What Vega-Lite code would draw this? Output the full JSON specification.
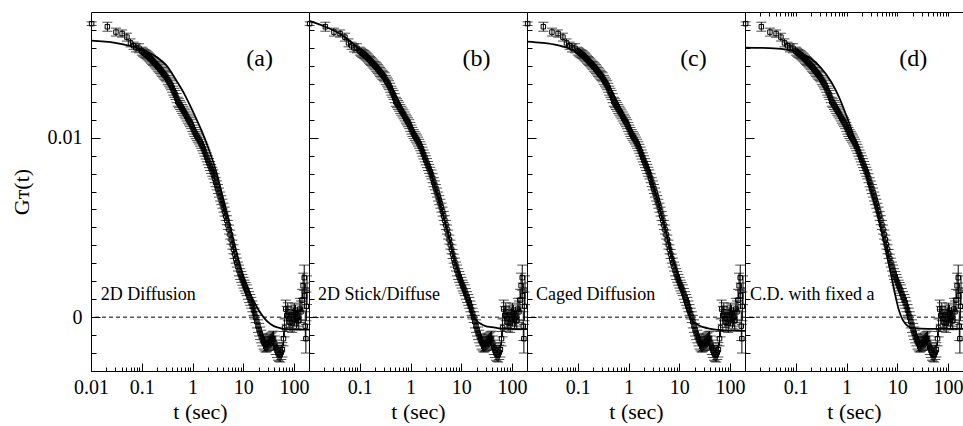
{
  "$schema": "https://vega.github.io/schema/vega-lite/v6.json",
  "padding": {"left": 9, "top": 11, "right": 0, "bottom": 0},
  "spacing": 0,
  "bounds": "flush",
  "background": "white",
  "config": {
    "font": "Liberation Serif",
    "view": {"stroke": "black", "strokeWidth": 1},
    "axis": {"domain": false, "grid": false, "tickColor": "black", "tickWidth": 1, "labelColor": "black", "titleColor": "black", "labelFont": "Liberation Serif", "titleFont": "Liberation Serif", "titleFontWeight": "normal"}
  },
  "datasets": {
    "pts": [
      {"t": 0.0103, "G": 0.01635, "e": 0.0001},
      {"t": 0.021, "G": 0.01618, "e": 0.00025},
      {"t": 0.031, "G": 0.01588, "e": 0.00022},
      {"t": 0.041, "G": 0.0158, "e": 0.0002},
      {"t": 0.051, "G": 0.0156, "e": 0.00022},
      {"t": 0.06, "G": 0.01528, "e": 0.00022},
      {"t": 0.069, "G": 0.01512, "e": 0.0002},
      {"t": 0.077, "G": 0.015, "e": 0.00022},
      {"t": 0.088, "G": 0.01498, "e": 0.00025},
      {"t": 0.1, "G": 0.01482, "e": 0.00022},
      {"t": 0.106, "G": 0.01476, "e": 0.00022},
      {"t": 0.112, "G": 0.0147, "e": 0.00022},
      {"t": 0.118, "G": 0.01466, "e": 0.00022},
      {"t": 0.124, "G": 0.01462, "e": 0.00022},
      {"t": 0.13, "G": 0.01456, "e": 0.00022},
      {"t": 0.137, "G": 0.0145, "e": 0.00022},
      {"t": 0.144, "G": 0.01444, "e": 0.00022},
      {"t": 0.152, "G": 0.01437, "e": 0.00022},
      {"t": 0.16, "G": 0.0143, "e": 0.00022},
      {"t": 0.168, "G": 0.01424, "e": 0.00022},
      {"t": 0.177, "G": 0.01417, "e": 0.00022},
      {"t": 0.186, "G": 0.0141, "e": 0.00022},
      {"t": 0.196, "G": 0.01403, "e": 0.00022},
      {"t": 0.206, "G": 0.01396, "e": 0.00025},
      {"t": 0.217, "G": 0.0139, "e": 0.00025},
      {"t": 0.228, "G": 0.01382, "e": 0.00025},
      {"t": 0.24, "G": 0.01374, "e": 0.00025},
      {"t": 0.252, "G": 0.01366, "e": 0.00025},
      {"t": 0.265, "G": 0.01358, "e": 0.00025},
      {"t": 0.279, "G": 0.0135, "e": 0.00025},
      {"t": 0.294, "G": 0.01343, "e": 0.00025},
      {"t": 0.309, "G": 0.01336, "e": 0.00025},
      {"t": 0.325, "G": 0.01322, "e": 0.00025},
      {"t": 0.342, "G": 0.01312, "e": 0.00025},
      {"t": 0.36, "G": 0.01302, "e": 0.00025},
      {"t": 0.378, "G": 0.01292, "e": 0.00025},
      {"t": 0.398, "G": 0.01278, "e": 0.00025},
      {"t": 0.418, "G": 0.01262, "e": 0.00025},
      {"t": 0.44, "G": 0.0125, "e": 0.00025},
      {"t": 0.463, "G": 0.01238, "e": 0.00025},
      {"t": 0.487, "G": 0.0122, "e": 0.00025},
      {"t": 0.512, "G": 0.012, "e": 0.00025},
      {"t": 0.539, "G": 0.01192, "e": 0.00025},
      {"t": 0.567, "G": 0.01182, "e": 0.00025},
      {"t": 0.597, "G": 0.01172, "e": 0.00025},
      {"t": 0.627, "G": 0.0116, "e": 0.00025},
      {"t": 0.66, "G": 0.0115, "e": 0.00025},
      {"t": 0.694, "G": 0.0114, "e": 0.00025},
      {"t": 0.73, "G": 0.0113, "e": 0.00025},
      {"t": 0.768, "G": 0.01118, "e": 0.00025},
      {"t": 0.808, "G": 0.01106, "e": 0.00025},
      {"t": 0.85, "G": 0.01096, "e": 0.00025},
      {"t": 0.894, "G": 0.01086, "e": 0.00025},
      {"t": 0.94, "G": 0.01075, "e": 0.00025},
      {"t": 0.99, "G": 0.0106, "e": 0.00025},
      {"t": 1.04, "G": 0.01045, "e": 0.00025},
      {"t": 1.09, "G": 0.01032, "e": 0.00025},
      {"t": 1.15, "G": 0.0102, "e": 0.00025},
      {"t": 1.21, "G": 0.0101, "e": 0.00025},
      {"t": 1.27, "G": 0.01, "e": 0.00025},
      {"t": 1.34, "G": 0.0099, "e": 0.00025},
      {"t": 1.41, "G": 0.00978, "e": 0.00025},
      {"t": 1.48, "G": 0.00966, "e": 0.00025},
      {"t": 1.56, "G": 0.00952, "e": 0.00025},
      {"t": 1.64, "G": 0.00938, "e": 0.00025},
      {"t": 1.72, "G": 0.00922, "e": 0.00025},
      {"t": 1.81, "G": 0.00906, "e": 0.00025},
      {"t": 1.91, "G": 0.0089, "e": 0.00025},
      {"t": 2.0, "G": 0.00874, "e": 0.00025},
      {"t": 2.11, "G": 0.00858, "e": 0.00025},
      {"t": 2.22, "G": 0.00842, "e": 0.00025},
      {"t": 2.33, "G": 0.00826, "e": 0.00025},
      {"t": 2.45, "G": 0.0081, "e": 0.00025},
      {"t": 2.58, "G": 0.00795, "e": 0.00025},
      {"t": 2.72, "G": 0.00774, "e": 0.00025},
      {"t": 2.86, "G": 0.00752, "e": 0.00025},
      {"t": 3.01, "G": 0.00734, "e": 0.00025},
      {"t": 3.16, "G": 0.00714, "e": 0.00025},
      {"t": 3.33, "G": 0.00694, "e": 0.00025},
      {"t": 3.5, "G": 0.00672, "e": 0.00025},
      {"t": 3.68, "G": 0.00652, "e": 0.00025},
      {"t": 3.87, "G": 0.00632, "e": 0.00025},
      {"t": 4.07, "G": 0.0061, "e": 0.00025},
      {"t": 4.28, "G": 0.00588, "e": 0.00025},
      {"t": 4.5, "G": 0.00564, "e": 0.00025},
      {"t": 4.73, "G": 0.0054, "e": 0.00025},
      {"t": 4.98, "G": 0.00514, "e": 0.00025},
      {"t": 5.24, "G": 0.00488, "e": 0.00025},
      {"t": 5.51, "G": 0.0046, "e": 0.00025},
      {"t": 5.8, "G": 0.00432, "e": 0.00025},
      {"t": 6.1, "G": 0.00404, "e": 0.00025},
      {"t": 6.41, "G": 0.00378, "e": 0.00025},
      {"t": 6.74, "G": 0.00352, "e": 0.00025},
      {"t": 7.09, "G": 0.00326, "e": 0.00025},
      {"t": 7.46, "G": 0.00304, "e": 0.00025},
      {"t": 7.85, "G": 0.00282, "e": 0.00025},
      {"t": 8.25, "G": 0.0026, "e": 0.0003},
      {"t": 8.68, "G": 0.0024, "e": 0.0003},
      {"t": 9.13, "G": 0.00224, "e": 0.0003},
      {"t": 9.6, "G": 0.00208, "e": 0.0003},
      {"t": 10.1, "G": 0.00192, "e": 0.0003},
      {"t": 10.6, "G": 0.00176, "e": 0.0003},
      {"t": 11.1, "G": 0.00163, "e": 0.0003},
      {"t": 11.7, "G": 0.0015, "e": 0.0003},
      {"t": 12.3, "G": 0.0013, "e": 0.0003},
      {"t": 13.0, "G": 0.00112, "e": 0.0003},
      {"t": 13.7, "G": 0.00096, "e": 0.0003},
      {"t": 14.4, "G": 0.0008, "e": 0.0003},
      {"t": 15.1, "G": 0.0006, "e": 0.0003},
      {"t": 15.9, "G": 0.0004, "e": 0.0003},
      {"t": 16.7, "G": 0.0002, "e": 0.0003},
      {"t": 17.6, "G": 0.0, "e": 0.0003},
      {"t": 18.5, "G": -0.00025, "e": 0.00035},
      {"t": 19.5, "G": -0.0005, "e": 0.00035},
      {"t": 20.5, "G": -0.0007, "e": 0.00035},
      {"t": 21.5, "G": -0.0009, "e": 0.00035},
      {"t": 22.6, "G": -0.00108, "e": 0.00035},
      {"t": 23.8, "G": -0.00125, "e": 0.00035},
      {"t": 25.0, "G": -0.00138, "e": 0.0004},
      {"t": 26.3, "G": -0.00148, "e": 0.0004},
      {"t": 27.7, "G": -0.00155, "e": 0.0004},
      {"t": 29.1, "G": -0.00152, "e": 0.0004},
      {"t": 30.6, "G": -0.00146, "e": 0.0004},
      {"t": 32.2, "G": -0.0014, "e": 0.0004},
      {"t": 33.9, "G": -0.00134, "e": 0.0004},
      {"t": 35.6, "G": -0.00128, "e": 0.0004},
      {"t": 37.5, "G": -0.00122, "e": 0.0004},
      {"t": 39.4, "G": -0.00118, "e": 0.0004},
      {"t": 41.5, "G": -0.00145, "e": 0.0004},
      {"t": 43.6, "G": -0.00168, "e": 0.0004},
      {"t": 45.9, "G": -0.00185, "e": 0.0004},
      {"t": 48.2, "G": -0.002, "e": 0.0004},
      {"t": 50.7, "G": -0.00206, "e": 0.0004},
      {"t": 53.3, "G": -0.0021, "e": 0.0004},
      {"t": 56.0, "G": -0.00196, "e": 0.0004},
      {"t": 58.9, "G": -0.00182, "e": 0.0004},
      {"t": 62.0, "G": -0.0012, "e": 0.0004},
      {"t": 65.1, "G": -0.0006, "e": 0.0005},
      {"t": 68.3, "G": 0.00045, "e": 0.0005},
      {"t": 71.8, "G": 0.0001, "e": 0.0005},
      {"t": 75.4, "G": 0.0003, "e": 0.0005},
      {"t": 79.3, "G": -0.00008, "e": 0.0005},
      {"t": 83.3, "G": -0.00028, "e": 0.0005},
      {"t": 87.5, "G": 0.00012, "e": 0.0005},
      {"t": 92.0, "G": -0.00035, "e": 0.0005},
      {"t": 96.6, "G": 0.00002, "e": 0.0005},
      {"t": 101.5, "G": 0.00028, "e": 0.0005},
      {"t": 106.7, "G": 0.00018, "e": 0.0005},
      {"t": 112.1, "G": -0.00012, "e": 0.0005},
      {"t": 117.8, "G": 0.0, "e": 0.0005},
      {"t": 123.8, "G": -0.0002, "e": 0.0005},
      {"t": 130.1, "G": 0.00045, "e": 0.0006},
      {"t": 136.7, "G": 0.0003, "e": 0.0006},
      {"t": 143.6, "G": 0.00095, "e": 0.0006},
      {"t": 150.9, "G": 0.00175, "e": 0.0007},
      {"t": 158.6, "G": 0.0022, "e": 0.0007},
      {"t": 162.0, "G": 0.0012, "e": 0.0007},
      {"t": 166.6, "G": -0.0005, "e": 0.0008},
      {"t": 171.0, "G": -0.0012, "e": 0.0008},
      {"t": 175.0, "G": 0.0006, "e": 0.0008},
      {"t": 180.0, "G": 0.0015, "e": 0.0008}
    ],
    "fit": [
      {"panel": "a", "t": 0.01, "G": 0.0154}, {"panel": "a", "t": 0.03, "G": 0.01528}, {"panel": "a", "t": 0.1, "G": 0.0149}, {"panel": "a", "t": 0.2, "G": 0.01448}, {"panel": "a", "t": 0.3, "G": 0.01405}, {"panel": "a", "t": 0.5, "G": 0.0131}, {"panel": "a", "t": 0.7, "G": 0.0124}, {"panel": "a", "t": 1.0, "G": 0.0115}, {"panel": "a", "t": 1.5, "G": 0.0104}, {"panel": "a", "t": 2.0, "G": 0.0095}, {"panel": "a", "t": 3.0, "G": 0.008}, {"panel": "a", "t": 4.0, "G": 0.0066}, {"panel": "a", "t": 5.0, "G": 0.0055}, {"panel": "a", "t": 6.5, "G": 0.0042}, {"panel": "a", "t": 8.0, "G": 0.0032}, {"panel": "a", "t": 10.0, "G": 0.0023}, {"panel": "a", "t": 13.0, "G": 0.00145}, {"panel": "a", "t": 16.0, "G": 0.0009}, {"panel": "a", "t": 20.0, "G": 0.0004}, {"panel": "a", "t": 25.0, "G": 0.0}, {"panel": "a", "t": 30.0, "G": -0.00025}, {"panel": "a", "t": 40.0, "G": -0.0005}, {"panel": "a", "t": 55.0, "G": -0.00062}, {"panel": "a", "t": 80.0, "G": -0.00067}, {"panel": "a", "t": 120.0, "G": -0.00069}, {"panel": "a", "t": 197.0, "G": -0.0007},
      {"panel": "b", "t": 0.01, "G": 0.0165}, {"panel": "b", "t": 0.02, "G": 0.0162}, {"panel": "b", "t": 0.04, "G": 0.0158}, {"panel": "b", "t": 0.07, "G": 0.0153}, {"panel": "b", "t": 0.1, "G": 0.0149}, {"panel": "b", "t": 0.15, "G": 0.0144}, {"panel": "b", "t": 0.2, "G": 0.014}, {"panel": "b", "t": 0.3, "G": 0.0134}, {"panel": "b", "t": 0.5, "G": 0.0124}, {"panel": "b", "t": 0.7, "G": 0.01155}, {"panel": "b", "t": 1.0, "G": 0.0106}, {"panel": "b", "t": 1.5, "G": 0.0096}, {"panel": "b", "t": 2.0, "G": 0.0088}, {"panel": "b", "t": 3.0, "G": 0.0073}, {"panel": "b", "t": 4.0, "G": 0.0061}, {"panel": "b", "t": 5.0, "G": 0.0051}, {"panel": "b", "t": 6.0, "G": 0.0042}, {"panel": "b", "t": 8.0, "G": 0.0029}, {"panel": "b", "t": 10.0, "G": 0.002}, {"panel": "b", "t": 13.0, "G": 0.0009}, {"panel": "b", "t": 16.0, "G": 0.0002}, {"panel": "b", "t": 20.0, "G": -0.0002}, {"panel": "b", "t": 25.0, "G": -0.0004}, {"panel": "b", "t": 30.0, "G": -0.0005}, {"panel": "b", "t": 40.0, "G": -0.00056}, {"panel": "b", "t": 55.0, "G": -0.00062}, {"panel": "b", "t": 80.0, "G": -0.00065}, {"panel": "b", "t": 197.0, "G": -0.00067},
      {"panel": "c", "t": 0.01, "G": 0.01535}, {"panel": "c", "t": 0.02, "G": 0.01528}, {"panel": "c", "t": 0.04, "G": 0.01515}, {"panel": "c", "t": 0.07, "G": 0.01495}, {"panel": "c", "t": 0.1, "G": 0.0147}, {"panel": "c", "t": 0.15, "G": 0.0143}, {"panel": "c", "t": 0.2, "G": 0.0139}, {"panel": "c", "t": 0.3, "G": 0.0133}, {"panel": "c", "t": 0.5, "G": 0.0124}, {"panel": "c", "t": 0.7, "G": 0.0116}, {"panel": "c", "t": 1.0, "G": 0.0107}, {"panel": "c", "t": 1.5, "G": 0.0097}, {"panel": "c", "t": 2.0, "G": 0.0089}, {"panel": "c", "t": 3.0, "G": 0.0074}, {"panel": "c", "t": 4.0, "G": 0.0062}, {"panel": "c", "t": 5.0, "G": 0.0052}, {"panel": "c", "t": 6.0, "G": 0.0043}, {"panel": "c", "t": 8.0, "G": 0.003}, {"panel": "c", "t": 10.0, "G": 0.0021}, {"panel": "c", "t": 12.5, "G": 0.0009}, {"panel": "c", "t": 15.0, "G": 0.0002}, {"panel": "c", "t": 18.0, "G": -0.0002}, {"panel": "c", "t": 23.5, "G": -0.00044}, {"panel": "c", "t": 30.0, "G": -0.00056}, {"panel": "c", "t": 37.0, "G": -0.00063}, {"panel": "c", "t": 58.0, "G": -0.00071}, {"panel": "c", "t": 100.0, "G": -0.00075}, {"panel": "c", "t": 197.0, "G": -0.00076},
      {"panel": "d", "t": 0.01, "G": 0.01502}, {"panel": "d", "t": 0.03, "G": 0.01499}, {"panel": "d", "t": 0.06, "G": 0.01492}, {"panel": "d", "t": 0.1, "G": 0.0148}, {"panel": "d", "t": 0.15, "G": 0.0146}, {"panel": "d", "t": 0.2, "G": 0.0144}, {"panel": "d", "t": 0.3, "G": 0.01395}, {"panel": "d", "t": 0.5, "G": 0.0131}, {"panel": "d", "t": 0.7, "G": 0.0123}, {"panel": "d", "t": 1.0, "G": 0.0112}, {"panel": "d", "t": 1.5, "G": 0.0098}, {"panel": "d", "t": 2.2, "G": 0.0084}, {"panel": "d", "t": 3.2, "G": 0.0068}, {"panel": "d", "t": 4.0, "G": 0.0058}, {"panel": "d", "t": 5.0, "G": 0.0047}, {"panel": "d", "t": 6.0, "G": 0.0037}, {"panel": "d", "t": 7.5, "G": 0.0024}, {"panel": "d", "t": 9.0, "G": 0.0013}, {"panel": "d", "t": 10.5, "G": 0.0005}, {"panel": "d", "t": 12.5, "G": -0.0001}, {"panel": "d", "t": 15.0, "G": -0.00042}, {"panel": "d", "t": 18.0, "G": -0.00058}, {"panel": "d", "t": 22.0, "G": -0.00063}, {"panel": "d", "t": 40.0, "G": -0.00065}, {"panel": "d", "t": 197.0, "G": -0.00065}
    ],
    "one": [{}]
  },
  "hconcat": [
    {
      "width": 218, "height": 359,
      "layer": [
        {"data": {"name": "pts"}, "mark": {"type": "errorbar", "color": "black", "thickness": 1, "ticks": {"size": 10, "thickness": 1, "color": "black"}},
         "encoding": {
           "x": {"field": "t", "type": "quantitative", "scale": {"type": "log", "domain": [0.01, 197], "nice": false}, "axis": {"orient": "bottom", "values": [0.01, 0.1, 1, 10, 100], "format": "~g", "tickSize": -8, "labelFontSize": 20, "labelPadding": 14, "labelFlush": false, "labelOverlap": false, "title": "t (sec)", "titleFontSize": 22, "titlePadding": 4}},
           "y": {"field": "G", "type": "quantitative", "scale": {"domain": [-0.003, 0.017], "nice": false, "zero": false}, "axis": {"orient": "left", "values": [0, 0.01], "format": "~g", "tickSize": -9, "labelFontSize": 20, "labelPadding": 18, "labelFlush": false, "labelOverlap": false, "title": "Gᴛ(t)", "titleFontSize": 22, "titlePadding": 14}},
           "yError": {"field": "e"}}},
        {"data": {"name": "pts"}, "mark": {"type": "point", "shape": "square", "filled": false, "size": 20, "strokeWidth": 1, "color": "black", "opacity": 1},
         "encoding": {
           "x": {"field": "t", "type": "quantitative", "scale": {"type": "log", "domain": [0.01, 197], "nice": false}, "axis": {"orient": "bottom", "values": [0.02, 0.03, 0.04, 0.05, 0.06, 0.07, 0.08, 0.09, 0.2, 0.3, 0.4, 0.5, 0.6, 0.7, 0.8, 0.9, 2, 3, 4, 5, 6, 7, 8, 9, 20, 30, 40, 50, 60, 70, 80, 90], "tickSize": -4, "labels": false, "title": null}},
           "y": {"field": "G", "type": "quantitative", "scale": {"domain": [-0.003, 0.017], "nice": false, "zero": false}, "axis": {"orient": "left", "values": [-0.002, -0.001, 0.001, 0.002, 0.003, 0.004, 0.005, 0.006, 0.007, 0.008, 0.009, 0.011, 0.012, 0.013, 0.014, 0.015, 0.016], "tickSize": -5, "labels": false, "title": null}}}},
        {"data": {"name": "fit"}, "transform": [{"filter": "datum.panel == 'a'"}], "mark": {"type": "line", "color": "black", "strokeWidth": 1.8, "interpolate": "monotone"},
         "encoding": {"x": {"field": "t", "type": "quantitative", "scale": {"type": "log", "domain": [0.01, 197], "nice": false}, "axis": null}, "y": {"field": "G", "type": "quantitative", "scale": {"domain": [-0.003, 0.017], "nice": false, "zero": false}, "axis": null}}},
        {"data": {"name": "one"}, "mark": {"type": "rule", "color": "black", "strokeWidth": 1, "strokeDash": [4, 3]}, "encoding": {"y": {"datum": 0, "type": "quantitative", "axis": null}}},
        {"data": {"name": "one"}, "mark": {"type": "text", "font": "Liberation Serif", "fontSize": 24, "color": "black", "align": "center", "baseline": "middle"}, "encoding": {"x": {"datum": 21, "type": "quantitative", "axis": null}, "y": {"datum": 0.0144, "type": "quantitative", "axis": null}, "text": {"value": "(a)"}}},
        {"data": {"name": "one"}, "mark": {"type": "text", "font": "Liberation Serif", "fontSize": 18, "color": "black", "align": "left", "baseline": "middle"}, "encoding": {"x": {"datum": 0.0155, "type": "quantitative", "axis": null}, "y": {"datum": 0.00123, "type": "quantitative", "axis": null}, "text": {"value": "2D Diffusion"}}}
      ],
      "resolve": {"axis": {"x": "independent", "y": "independent"}}
    },
    {
      "width": 218, "height": 359,
      "layer": [
        {"data": {"name": "pts"}, "mark": {"type": "errorbar", "color": "black", "thickness": 1, "ticks": {"size": 10, "thickness": 1, "color": "black"}},
         "encoding": {
           "x": {"field": "t", "type": "quantitative", "scale": {"type": "log", "domain": [0.01, 197], "nice": false}, "axis": {"orient": "bottom", "values": [0.01, 0.1, 1, 10, 100], "format": "~g", "labelExpr": "datum.value < 0.05 ? '' : datum.label", "tickSize": -8, "labelFontSize": 20, "labelPadding": 14, "labelFlush": false, "labelOverlap": false, "title": "t (sec)", "titleFontSize": 22, "titlePadding": 4}},
           "y": {"field": "G", "type": "quantitative", "scale": {"domain": [-0.003, 0.017], "nice": false, "zero": false}, "axis": {"orient": "left", "values": [0, 0.01], "tickSize": -9, "labels": false, "title": null}},
           "yError": {"field": "e"}}},
        {"data": {"name": "pts"}, "mark": {"type": "point", "shape": "square", "filled": false, "size": 20, "strokeWidth": 1, "color": "black", "opacity": 1},
         "encoding": {
           "x": {"field": "t", "type": "quantitative", "scale": {"type": "log", "domain": [0.01, 197], "nice": false}, "axis": {"orient": "bottom", "values": [0.02, 0.03, 0.04, 0.05, 0.06, 0.07, 0.08, 0.09, 0.2, 0.3, 0.4, 0.5, 0.6, 0.7, 0.8, 0.9, 2, 3, 4, 5, 6, 7, 8, 9, 20, 30, 40, 50, 60, 70, 80, 90], "tickSize": -4, "labels": false, "title": null}},
           "y": {"field": "G", "type": "quantitative", "scale": {"domain": [-0.003, 0.017], "nice": false, "zero": false}, "axis": {"orient": "left", "values": [-0.002, -0.001, 0.001, 0.002, 0.003, 0.004, 0.005, 0.006, 0.007, 0.008, 0.009, 0.011, 0.012, 0.013, 0.014, 0.015, 0.016], "tickSize": -5, "labels": false, "title": null}}}},
        {"data": {"name": "fit"}, "transform": [{"filter": "datum.panel == 'b'"}], "mark": {"type": "line", "color": "black", "strokeWidth": 1.8, "interpolate": "monotone"},
         "encoding": {"x": {"field": "t", "type": "quantitative", "scale": {"type": "log", "domain": [0.01, 197], "nice": false}, "axis": null}, "y": {"field": "G", "type": "quantitative", "scale": {"domain": [-0.003, 0.017], "nice": false, "zero": false}, "axis": null}}},
        {"data": {"name": "one"}, "mark": {"type": "rule", "color": "black", "strokeWidth": 1, "strokeDash": [4, 3]}, "encoding": {"y": {"datum": 0, "type": "quantitative", "axis": null}}},
        {"data": {"name": "one"}, "mark": {"type": "text", "font": "Liberation Serif", "fontSize": 24, "color": "black", "align": "center", "baseline": "middle"}, "encoding": {"x": {"datum": 20, "type": "quantitative", "axis": null}, "y": {"datum": 0.0144, "type": "quantitative", "axis": null}, "text": {"value": "(b)"}}},
        {"data": {"name": "one"}, "mark": {"type": "text", "font": "Liberation Serif", "fontSize": 18, "color": "black", "align": "left", "baseline": "middle"}, "encoding": {"x": {"datum": 0.015, "type": "quantitative", "axis": null}, "y": {"datum": 0.00123, "type": "quantitative", "axis": null}, "text": {"value": "2D Stick/Diffuse"}}}
      ],
      "resolve": {"axis": {"x": "independent", "y": "independent"}}
    },
    {
      "width": 218, "height": 359,
      "layer": [
        {"data": {"name": "pts"}, "mark": {"type": "errorbar", "color": "black", "thickness": 1, "ticks": {"size": 10, "thickness": 1, "color": "black"}},
         "encoding": {
           "x": {"field": "t", "type": "quantitative", "scale": {"type": "log", "domain": [0.01, 197], "nice": false}, "axis": {"orient": "bottom", "values": [0.01, 0.1, 1, 10, 100], "format": "~g", "labelExpr": "datum.value < 0.05 ? '' : datum.label", "tickSize": -8, "labelFontSize": 20, "labelPadding": 14, "labelFlush": false, "labelOverlap": false, "title": "t (sec)", "titleFontSize": 22, "titlePadding": 4}},
           "y": {"field": "G", "type": "quantitative", "scale": {"domain": [-0.003, 0.017], "nice": false, "zero": false}, "axis": {"orient": "left", "values": [0, 0.01], "tickSize": -9, "labels": false, "title": null}},
           "yError": {"field": "e"}}},
        {"data": {"name": "pts"}, "mark": {"type": "point", "shape": "square", "filled": false, "size": 20, "strokeWidth": 1, "color": "black", "opacity": 1},
         "encoding": {
           "x": {"field": "t", "type": "quantitative", "scale": {"type": "log", "domain": [0.01, 197], "nice": false}, "axis": {"orient": "bottom", "values": [0.02, 0.03, 0.04, 0.05, 0.06, 0.07, 0.08, 0.09, 0.2, 0.3, 0.4, 0.5, 0.6, 0.7, 0.8, 0.9, 2, 3, 4, 5, 6, 7, 8, 9, 20, 30, 40, 50, 60, 70, 80, 90], "tickSize": -4, "labels": false, "title": null}},
           "y": {"field": "G", "type": "quantitative", "scale": {"domain": [-0.003, 0.017], "nice": false, "zero": false}, "axis": {"orient": "left", "values": [-0.002, -0.001, 0.001, 0.002, 0.003, 0.004, 0.005, 0.006, 0.007, 0.008, 0.009, 0.011, 0.012, 0.013, 0.014, 0.015, 0.016], "tickSize": -5, "labels": false, "title": null}}}},
        {"data": {"name": "fit"}, "transform": [{"filter": "datum.panel == 'c'"}], "mark": {"type": "line", "color": "black", "strokeWidth": 1.8, "interpolate": "monotone"},
         "encoding": {"x": {"field": "t", "type": "quantitative", "scale": {"type": "log", "domain": [0.01, 197], "nice": false}, "axis": null}, "y": {"field": "G", "type": "quantitative", "scale": {"domain": [-0.003, 0.017], "nice": false, "zero": false}, "axis": null}}},
        {"data": {"name": "one"}, "mark": {"type": "rule", "color": "black", "strokeWidth": 1, "strokeDash": [4, 3]}, "encoding": {"y": {"datum": 0, "type": "quantitative", "axis": null}}},
        {"data": {"name": "one"}, "mark": {"type": "text", "font": "Liberation Serif", "fontSize": 24, "color": "black", "align": "center", "baseline": "middle"}, "encoding": {"x": {"datum": 19, "type": "quantitative", "axis": null}, "y": {"datum": 0.0144, "type": "quantitative", "axis": null}, "text": {"value": "(c)"}}},
        {"data": {"name": "one"}, "mark": {"type": "text", "font": "Liberation Serif", "fontSize": 18, "color": "black", "align": "left", "baseline": "middle"}, "encoding": {"x": {"datum": 0.0151, "type": "quantitative", "axis": null}, "y": {"datum": 0.00123, "type": "quantitative", "axis": null}, "text": {"value": "Caged Diffusion"}}}
      ],
      "resolve": {"axis": {"x": "independent", "y": "independent"}}
    },
    {
      "width": 218, "height": 359,
      "layer": [
        {"data": {"name": "pts"}, "mark": {"type": "errorbar", "color": "black", "thickness": 1, "ticks": {"size": 10, "thickness": 1, "color": "black"}},
         "encoding": {
           "x": {"field": "t", "type": "quantitative", "scale": {"type": "log", "domain": [0.01, 197], "nice": false}, "axis": {"orient": "bottom", "values": [0.01, 0.1, 1, 10, 100], "format": "~g", "labelExpr": "datum.value < 0.05 ? '' : datum.label", "tickSize": -8, "labelFontSize": 20, "labelPadding": 14, "labelFlush": false, "labelOverlap": false, "title": "t (sec)", "titleFontSize": 22, "titlePadding": 4}},
           "y": {"field": "G", "type": "quantitative", "scale": {"domain": [-0.003, 0.017], "nice": false, "zero": false}, "axis": {"orient": "left", "values": [0, 0.01], "tickSize": -9, "labels": false, "title": null}},
           "yError": {"field": "e"}}},
        {"data": {"name": "pts"}, "mark": {"type": "point", "shape": "square", "filled": false, "size": 20, "strokeWidth": 1, "color": "black", "opacity": 1},
         "encoding": {
           "x": {"field": "t", "type": "quantitative", "scale": {"type": "log", "domain": [0.01, 197], "nice": false}, "axis": {"orient": "bottom", "values": [0.02, 0.03, 0.04, 0.05, 0.06, 0.07, 0.08, 0.09, 0.2, 0.3, 0.4, 0.5, 0.6, 0.7, 0.8, 0.9, 2, 3, 4, 5, 6, 7, 8, 9, 20, 30, 40, 50, 60, 70, 80, 90], "tickSize": -4, "labels": false, "title": null}},
           "y": {"field": "G", "type": "quantitative", "scale": {"domain": [-0.003, 0.017], "nice": false, "zero": false}, "axis": {"orient": "left", "values": [-0.002, -0.001, 0.001, 0.002, 0.003, 0.004, 0.005, 0.006, 0.007, 0.008, 0.009, 0.011, 0.012, 0.013, 0.014, 0.015, 0.016], "tickSize": -5, "labels": false, "title": null}}}},
        {"data": {"name": "fit"}, "transform": [{"filter": "datum.panel == 'd'"}], "mark": {"type": "line", "color": "black", "strokeWidth": 1.8, "interpolate": "monotone"},
         "encoding": {"x": {"field": "t", "type": "quantitative", "scale": {"type": "log", "domain": [0.01, 197], "nice": false}, "axis": {"orient": "top", "values": [0.01, 0.02, 0.03, 0.04, 0.05, 0.06, 0.07, 0.08, 0.09, 0.1, 0.2, 0.3, 0.4, 0.5, 0.6, 0.7, 0.8, 0.9, 1, 2, 3, 4, 5, 6, 7, 8, 9, 10, 20, 30, 40, 50, 60, 70, 80, 90, 100], "tickSize": -4, "labels": false, "title": null}}, "y": {"field": "G", "type": "quantitative", "scale": {"domain": [-0.003, 0.017], "nice": false, "zero": false}, "axis": null}}},
        {"data": {"name": "one"}, "mark": {"type": "rule", "color": "black", "strokeWidth": 1, "strokeDash": [4, 3]}, "encoding": {"y": {"datum": 0, "type": "quantitative", "axis": null}}},
        {"data": {"name": "one"}, "mark": {"type": "text", "font": "Liberation Serif", "fontSize": 24, "color": "black", "align": "center", "baseline": "middle"}, "encoding": {"x": {"datum": 20.7, "type": "quantitative", "axis": null}, "y": {"datum": 0.0144, "type": "quantitative", "axis": null}, "text": {"value": "(d)"}}},
        {"data": {"name": "one"}, "mark": {"type": "text", "font": "Liberation Serif", "fontSize": 18, "color": "black", "align": "left", "baseline": "middle"}, "encoding": {"x": {"datum": 0.0125, "type": "quantitative", "axis": null}, "y": {"datum": 0.00123, "type": "quantitative", "axis": null}, "text": {"value": "C.D. with fixed a"}}}
      ],
      "resolve": {"axis": {"x": "independent", "y": "independent"}}
    }
  ]
}
